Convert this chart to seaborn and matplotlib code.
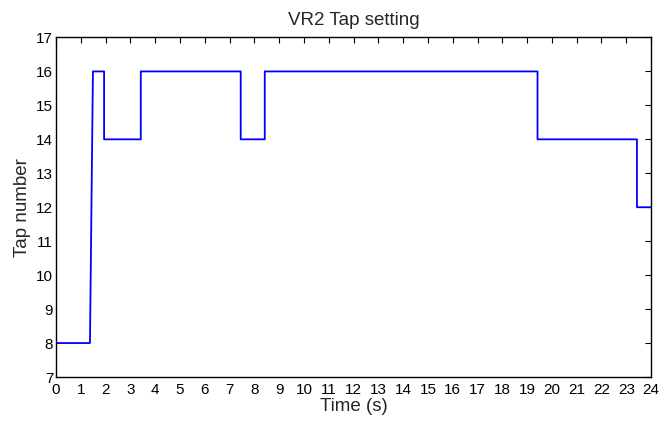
import matplotlib
matplotlib.use("Agg")
import matplotlib.pyplot as plt
import seaborn as sns
import pandas as pd

# Data: (time, tap) breakpoints of the step trace
time_s = [0, 1.37, 1.49, 1.94, 1.94, 3.42, 3.42, 7.45, 7.45, 8.42, 8.42, 19.42, 19.42, 23.43, 23.43, 24]
tap = [8, 8, 16, 16, 14, 14, 16, 16, 14, 14, 16, 16, 14, 14, 12, 12]
x_ticks = list(range(0, 25))
y_ticks = list(range(7, 18))

sns.set_style("white")
plt.rcParams['font.family'] = ['Liberation Sans', 'DejaVu Sans']

df = pd.DataFrame({"Time (s)": time_s, "Tap number": tap})

fig = plt.figure(figsize=(6.61, 4.21), dpi=100)
ax = fig.add_axes([0.0847, 0.1045, 0.9003, 0.8065])
sns.lineplot(data=df, x="Time (s)", y="Tap number", sort=False, estimator=None,
             color="#0000ff", linewidth=1.3, ax=ax)

ax.set_xlim(0, 24)
ax.set_ylim(7, 17)
ax.set_xticks(x_ticks)
ax.set_yticks(y_ticks)
ax.tick_params(direction="in", length=4, width=0.8, top=True, right=True,
               labelsize=11, colors="black")
ax.tick_params(axis="x", pad=4)
ax.tick_params(axis="y", pad=2)
for s in ax.spines.values():
    s.set_visible(True)
    s.set_color("black")
    s.set_linewidth(1.0)
ax.set_title("VR2 Tap setting", fontsize=13.5, pad=9)
ax.set_xlabel("Time (s)", fontsize=13.5, labelpad=1)
ax.set_ylabel("Tap number", fontsize=13.5, labelpad=4)

fig.savefig("out.png", dpi=100)
